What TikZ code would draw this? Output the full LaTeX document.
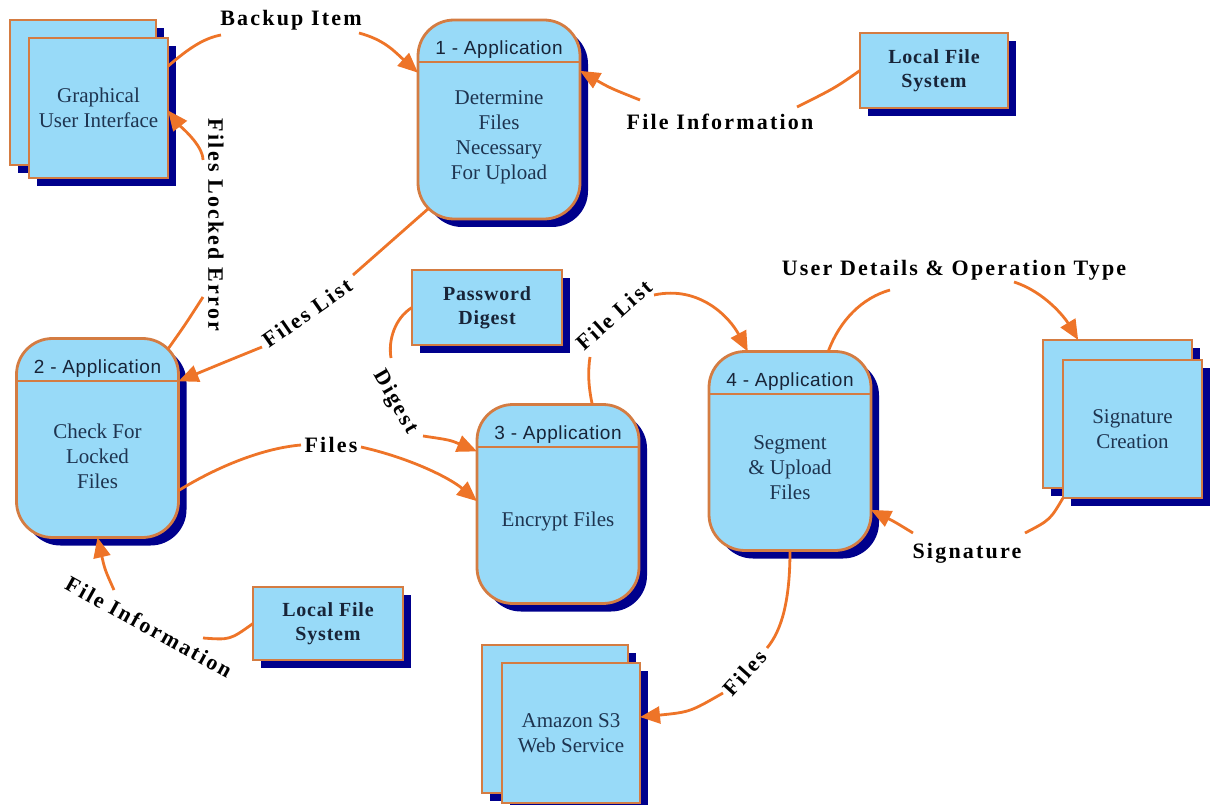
\documentclass[tikz,border=0pt]{standalone}
\usepackage{fontspec}
\setmainfont{Liberation Serif}
\newfontfamily\hdrfont[LetterSpace=3]{Liberation Sans}
\newfontfamily\lblfont[LetterSpace=10]{Liberation Serif}
\newfontfamily\boxbold[LetterSpace=4]{Liberation Serif}
\usetikzlibrary{shadows,arrows.meta,calc}

\definecolor{boxfill}{RGB}{152,218,248}
\definecolor{boxedge}{RGB}{212,124,66}
\definecolor{flow}{RGB}{238,116,40}
\definecolor{shade}{RGB}{0,0,140}
\definecolor{boxtext}{RGB}{30,52,80}
\definecolor{hdrtext}{RGB}{24,36,56}

\tikzset{
  shadowed/.style={drop shadow={shadow xshift=8pt, shadow yshift=-8pt, fill=shade, opacity=1}},
  box/.style={draw=boxedge, line width=2.8pt, fill=boxfill, shadowed, outer sep=0pt,
    inner sep=0pt, align=center, text=boxtext, font=\fontsize{21}{25}\selectfont},
  proc/.style={box, rounded corners=36pt, minimum width=162pt, minimum height=199pt},
  store/.style={box, font=\boxbold\bfseries\fontsize{20}{24}\selectfont, text=hdrtext},
  hdr/.style={anchor=base, inner sep=0pt, font=\hdrfont\fontsize{19}{22}\selectfont, text=hdrtext},
  body/.style={inner sep=0pt, align=center, text=boxtext, font=\fontsize{21}{25}\selectfont},
  lbl/.style={inner sep=0pt, font=\lblfont\bfseries\fontsize{22}{24}\selectfont, text=black},
  flowline/.style={draw=flow, line width=2.8pt},
  flowarrow/.style={flowline, -{Triangle[length=20pt,width=17pt]}},
  sepline/.style={draw=boxedge, line width=2pt},
}

\begin{document}
\begin{tikzpicture}[x=1pt,y=-1pt]
\useasboundingbox (0,0) rectangle (1211,805);

% ---- external entities (stacked boxes) ----
\node[box, minimum width=146pt, minimum height=145pt] (guib) at (83,92.5) {};
\node[box, minimum width=139pt, minimum height=140pt] (gui) at (98.5,108) {Graphical\\User Interface};

\node[box, minimum width=149pt, minimum height=148pt] (sigb) at (1117.5,414) {};
\node[box, minimum width=139pt, minimum height=138pt] (sig) at (1132.5,429) {Signature\\Creation};

\node[box, minimum width=146pt, minimum height=148pt] (s3b) at (555,719) {};
\node[box, minimum width=138pt, minimum height=140pt] (s3) at (571,733) {Amazon S3\\Web Service};

% ---- data stores ----
\node[store, minimum width=148pt, minimum height=75pt] (lfsa) at (934,70.5) {Local File\\System};
\node[store, minimum width=150pt, minimum height=75pt] (pwd) at (487,307.5) {Password\\Digest};
\node[store, minimum width=150pt, minimum height=73pt] (lfsb) at (328,623.5) {Local File\\System};

% ---- processes ----
\foreach \n/\pos in {p1/{(499,119.5)}, p2/{(97.5,438)}, p3/{(558,504)}, p4/{(790,451)}}{
  \node[proc] (\n) at \pos {};
  \draw[sepline] ($(\n.north west)+(0,42)$) -- ($(\n.north east)+(0,42)$);
}
\node[hdr] (p1h) at ($(p1.north)+(0,35)$) {1 - Application};
\node[hdr] (p2h) at ($(p2.north)+(0,35)$) {2 - Application};
\node[hdr] (p3h) at ($(p3.north)+(0,35)$) {3 - Application};
\node[hdr] (p4h) at ($(p4.north)+(0,35)$) {4 - Application};
\node[body] (p1t) at ($(p1.center)+(0,18)$) {Determine\\Files\\Necessary\\For Upload};
\node[body] (p2t) at ($(p2.center)+(0,18)$) {Check For\\Locked\\Files};
\node[body] (p3t) at ($(p3.center)+(0,17)$) {Encrypt Files};
\node[body] (p4t) at ($(p4.center)+(0,17)$) {Segment\\\& Upload\\Files};

% ---- flow labels ----
\node[lbl] (l1) at (291,20) {Backup Item};
\node[lbl, rotate=-90] (l2) at (216,225) {Files Locked Error};
\node[lbl] (l3) at (720,122) {File Information};
\node[lbl, rotate=35] (l4) at (307,313) {Files List};
\node[lbl, rotate=-60] (l5) at (395,402) {Digest};
\node[lbl] (l6) at (331,445) {Files};
\node[lbl, rotate=42] (l7) at (614,315) {File List};
\node[lbl] (l8) at (954,270) {User Details \& Operation Type};
\node[lbl] (l9) at (967,553) {Signature};
\node[lbl, rotate=48] (l10) at (745,673) {Files};
\node[lbl, rotate=-29] (l11) at (149,627) {File Information};

% ---- data flows ----
% Backup Item
\draw[flowline] (gui.31) .. controls (190,47) and (205,38) .. ($(l1)+(-70,15)$);
\draw[flowarrow] ($(l1)+(68,13)$) .. controls (385,40) and (395,52) .. (p1.150);
% Files Locked Error
\draw[flowline] ($(p2.north east)+(-10.5,10.5)$) .. controls (185,325) .. ($(l2)+(-13,72)$);
\draw[flowarrow] ($(l2)+(-13,-65)$) .. controls (203,145) and (180,126) .. (gui.-2);
% File Information (upper store)
\draw[flowline] (lfsa.west) .. controls (835,88) .. ($(l3)+(77,-15)$);
\draw[flowarrow] ($(l3)+(-80,-22)$) .. controls (610,88) .. (p1.31);
% Files List
\draw[flowline] ($(p1.south west)+(10.5,-10.5)$) .. controls (395,238) .. ($(l4)+(46,-38)$);
\draw[flowarrow] ($(l4)+(-45,34)$) .. controls (225,362) .. (p2.35);
% Digest
\draw[flowline] (pwd.west) .. controls (395,318) and (388,340) .. ($(l5)+(-4,-44)$);
\draw[flowarrow] ($(l5)+(28,34)$) .. controls (450,440) .. (p3.147);
% Files (2 to 3)
\draw[flowline] (p2.-33) .. controls (220,465) and (265,448) .. ($(l6)+(-30,0)$);
\draw[flowarrow] ($(l6)+(30,2)$) .. controls (410,458) and (450,478) .. (p3.178);
% File List (3 to 4)
\draw[flowline] (p3.71) .. controls (588,385) and (588,370) .. ($(l7)+(-24,42)$);
\draw[flowarrow] ($(l7)+(40,-20)$) .. controls (700,285) and (730,318) .. (p4.113);
% User Details & Operation Type
\draw[flowline] (p4.69) .. controls (840,320) and (862,298) .. ($(l8)+(-64,20)$);
\draw[flowarrow] ($(l8)+(60,12)$) .. controls (1045,292) and (1065,318) .. (sigb.118);
% Signature
\draw[flowline] (sig.south west) .. controls (1050,520) .. ($(l9)+(58,-20)$);
\draw[flowarrow] ($(l9)+(-54,-20)$) .. controls (895,522) .. (p4.-36);
% Files (4 to S3)
\draw[flowline] (p4.south) .. controls (790,600) and (782,630) .. ($(l10)+(22,-25)$);
\draw[flowarrow] ($(l10)+(-22,20)$) .. controls (690,712) .. (s3.13);
% File Information (lower store)
\draw[flowline] (lfsb.west) .. controls (230,640) .. ($(l11)+(54,11)$);
\draw[flowarrow] ($(l11)+(-35,-37)$) .. controls (105,570) .. (p2.south);
\end{tikzpicture}
\end{document}
